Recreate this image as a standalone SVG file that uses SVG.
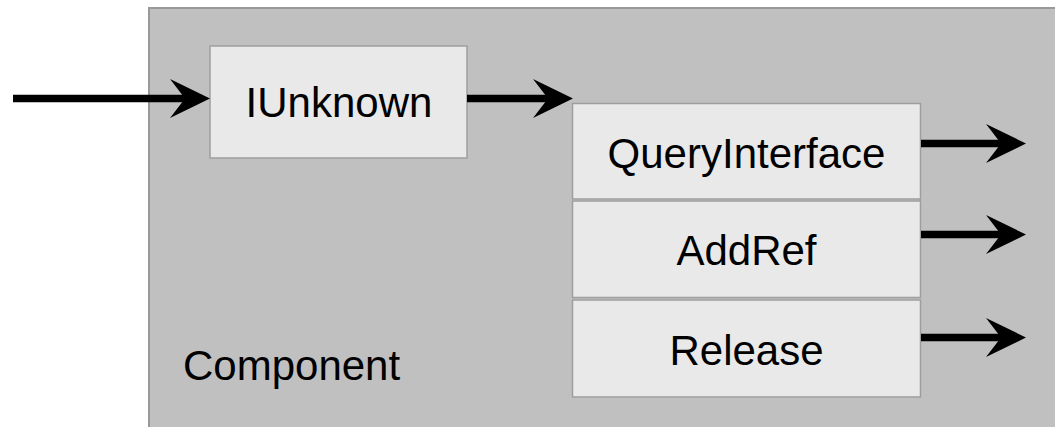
<svg xmlns="http://www.w3.org/2000/svg" width="1055" height="427" viewBox="0 0 1055 427">
<style>
.box{fill:#e9e9e9;stroke:#9e9e9e;stroke-width:1.5}
.outer{fill:#c0c0c0;stroke:#999999;stroke-width:2}
.lbl{font-family:"Liberation Sans",Arial,sans-serif;font-size:42px;fill:#000}
.c{text-anchor:middle}
.conn{stroke:#000;stroke-width:7.5;fill:none;marker-end:url(#ah)}
</style>
<defs>
<marker id="ah" markerUnits="userSpaceOnUse" viewBox="-41 -21 42 42" markerWidth="42" markerHeight="42" refX="-25" refY="0" orient="auto">
<path d="M-40,-19.5 L0,0 L-40,19.5 L-25,0 Z" fill="#000"/>
</marker>
</defs>
<g id="component">
<rect class="outer" x="149" y="8" width="920" height="430"/>
<text class="lbl" x="183" y="380">Component</text>
</g>
<g id="iunknown">
<rect class="box" x="210" y="46" width="257" height="112"/>
<text class="lbl c" x="339" y="117">IUnknown</text>
</g>
<g id="queryinterface">
<rect class="box" x="572.5" y="103.5" width="348" height="95.5"/>
<text class="lbl c" x="746.5" y="167.5">QueryInterface</text>
</g>
<g id="addref">
<rect class="box" x="572.5" y="201" width="348" height="96.5"/>
<text class="lbl c" x="746.5" y="265">AddRef</text>
</g>
<g id="release">
<rect class="box" x="572.5" y="300" width="348" height="97"/>
<text class="lbl c" x="746.5" y="365">Release</text>
</g>
<g id="connectors">
<line class="conn" x1="13" y1="98.5" x2="185" y2="98.5"/>
<line class="conn" x1="467" y1="98.5" x2="548" y2="98.5"/>
<line class="conn" x1="921" y1="143.5" x2="1001" y2="143.5"/>
<line class="conn" x1="921" y1="234.5" x2="1001" y2="234.5"/>
<line class="conn" x1="921" y1="337.5" x2="1001" y2="337.5"/>
</g>
</svg>
